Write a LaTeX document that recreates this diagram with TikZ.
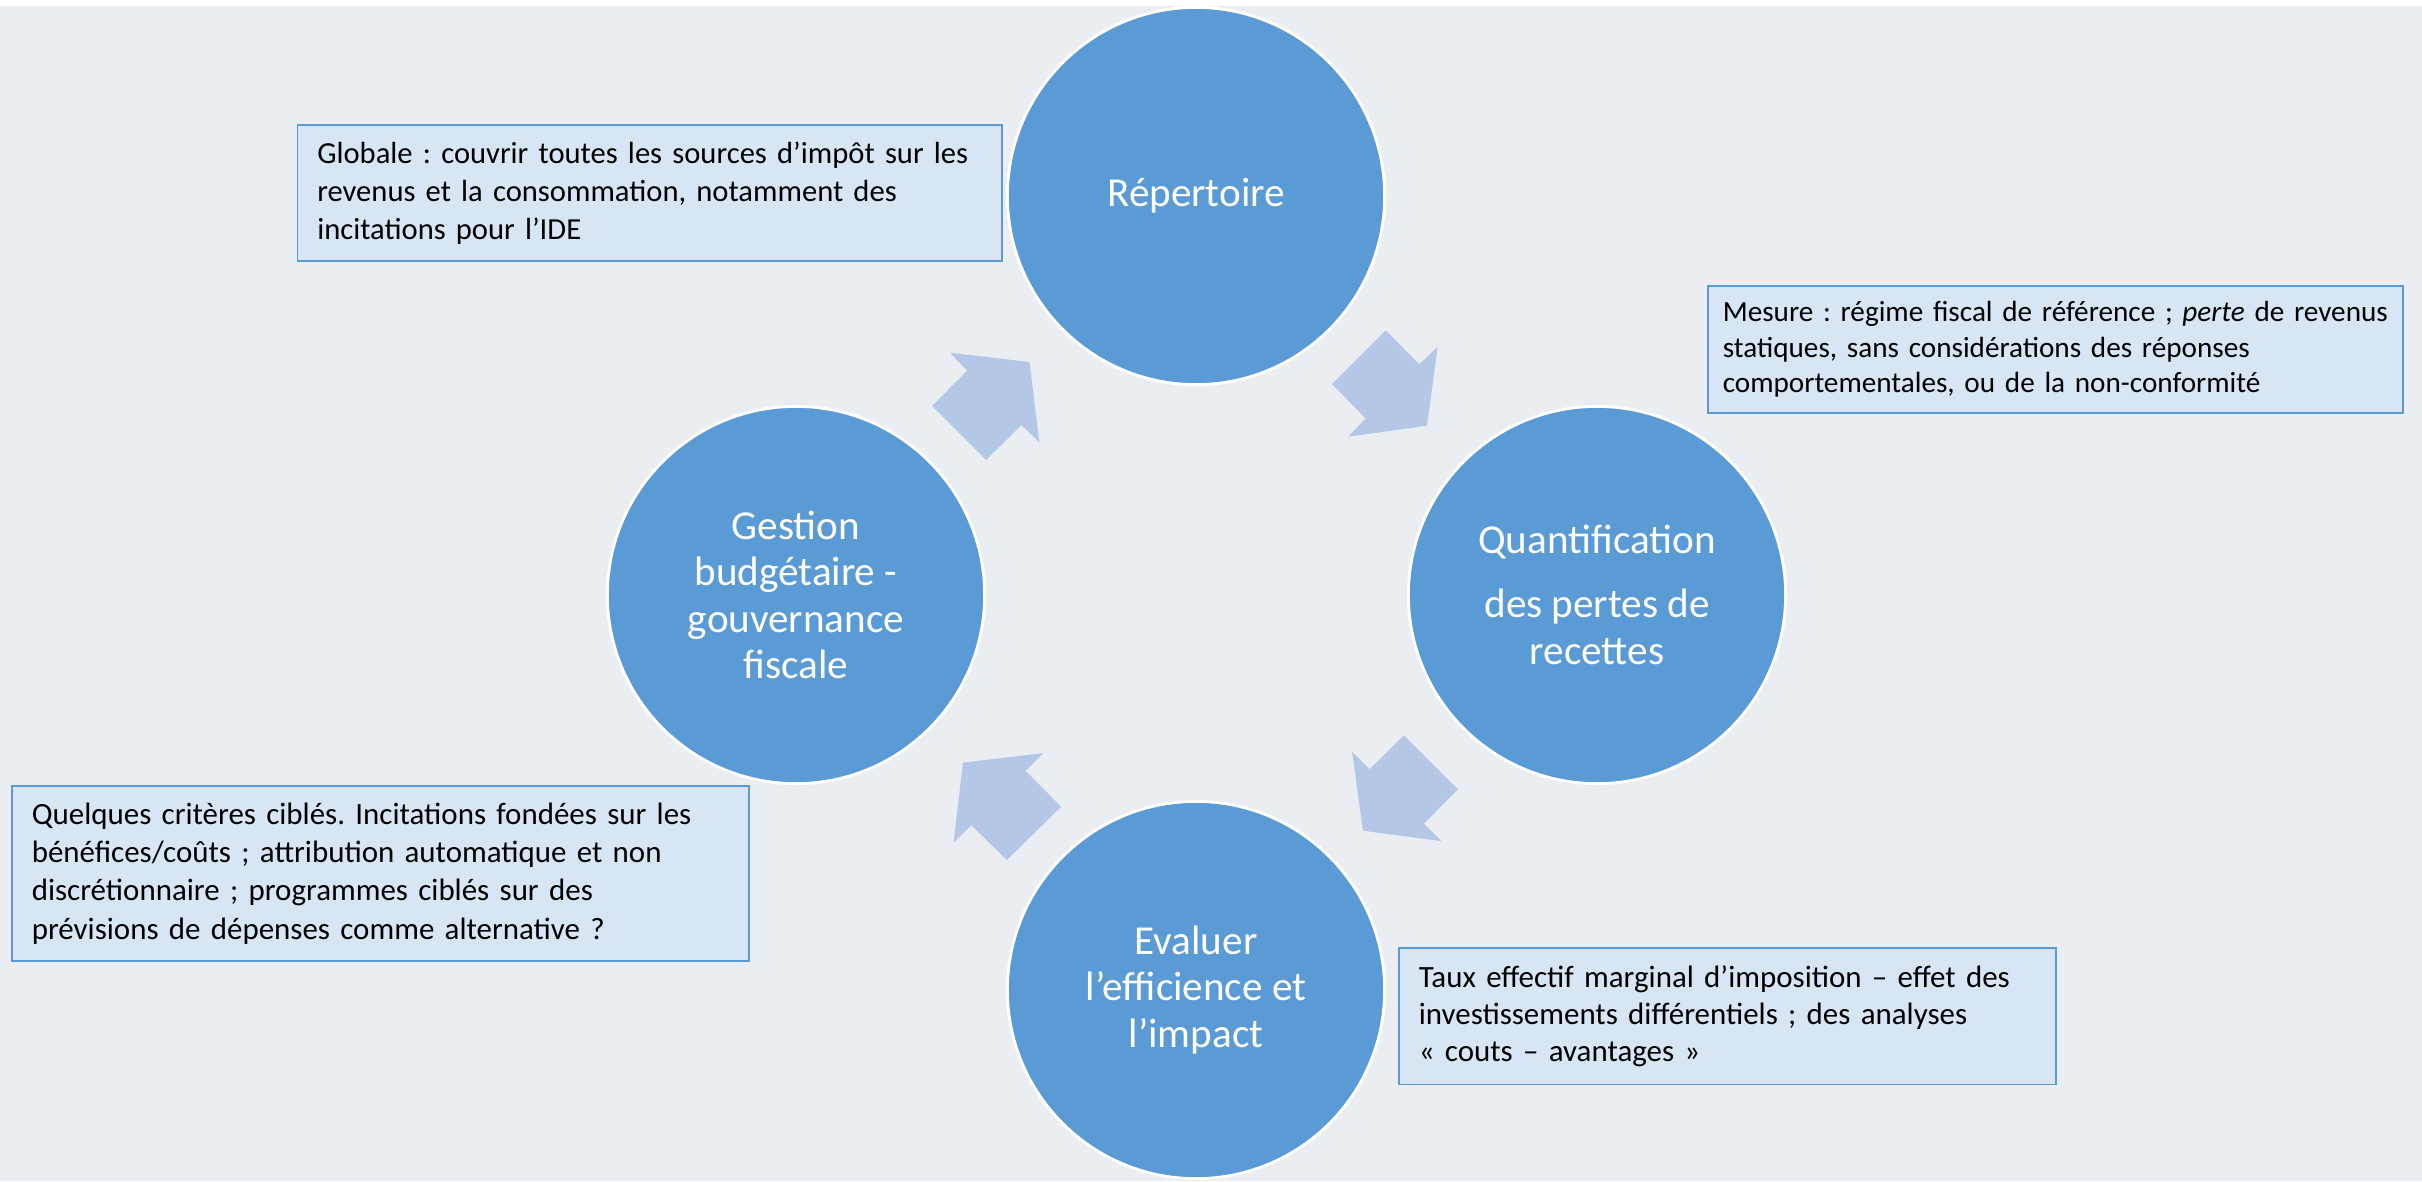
\documentclass[tikz,border=0pt]{standalone}
\usepackage{fontspec}
\setmainfont{Carlito}
\usepackage{tikz}
\usetikzlibrary{positioning}
\definecolor{bgtint}{HTML}{EAEEF3}
\definecolor{stageblue}{HTML}{5B9BD5}
\definecolor{arrowtint}{HTML}{B4C7E7}
\definecolor{notefill}{HTML}{D7E5F5}
\definecolor{noteedge}{HTML}{5B9BD5}
\frenchspacing

\begin{document}
\begin{tikzpicture}[x=0.01cm, y=-0.01cm,
  stage/.style={circle, fill=stageblue, draw=white, line width=0.8pt, minimum size=3.77cm, inner sep=0pt, align=center, text=white, font=\fontsize{11.7}{13.2}\selectfont},
  note/.style={rectangle, draw=noteedge, line width=0.45pt, fill=notefill, anchor=north west, align=left, inner xsep=0.2cm, inner ysep=0pt, font=\fontsize{8.7}{10.8}\selectfont},
  cyclearrow/.style={fill=arrowtint}]
  \useasboundingbox (0,0) rectangle (2422,1181);
  \fill[white] (0,0) rectangle (2422,1181);
  \fill[bgtint] (0,6) rectangle (2422,1181);

  \node (repertoire) at (1196,196) [stage] {Répertoire};
  \node (quantif) at (1597,595) [stage] {Quantification\\[5pt] des pertes de\\ recettes};
  \node (evaluer) at (1196,990) [stage] {Evaluer\\ l’efficience et\\ l’impact};
  \node (gestion) at (796,595) [stage] {Gestion\\ budgétaire -\\ gouvernance\\ fiscale};

  \fill[cyclearrow] (1385.7,330.3) -- (1419.3,364.3) -- (1437.7,346.7) -- (1427,425.7) -- (1348.3,436.7) -- (1365.7,418.3) -- (1332,384) -- cycle;
  \fill[cyclearrow] (1403.9,735.3) -- (1457.9,789.3) -- (1423.9,823.7) -- (1441.4,841) -- (1362.9,830.7) -- (1352.1,751.7) -- (1369.6,769.3) -- cycle;
  \fill[cyclearrow] (1006.8,860) -- (971.4,825.3) -- (953.6,842.7) -- (962.9,762.7) -- (1043.2,753) -- (1025.7,771) -- (1061.1,806.7) -- cycle;
  \fill[cyclearrow] (932.1,406) -- (967.1,370.7) -- (950,352.7) -- (1029.6,362) -- (1039.3,442.3) -- (1021.4,425) -- (986.1,460) -- cycle;

  \node (globale) at (296.5,124) [note, text width=6.645cm, minimum height=1.36cm] {Globale : couvrir toutes les sources d’impôt sur les\\ revenus et la consommation, notamment des\\ incitations pour l’IDE};
  \node (mesure) at (1707,285) [note, inner xsep=0.15cm, text width=6.65cm, minimum height=1.27cm, font=\fontsize{8.3}{10}\selectfont] {Mesure : régime fiscal de référence ; \textit{perte} de revenus\\ statiques, sans considérations des réponses\\ comportementales, ou de la non-conformité};
  \node (criteres) at (11,785) [note, text width=6.965cm, minimum height=1.75cm, font=\fontsize{8.8}{10.9}\selectfont] {Quelques critères ciblés. Incitations fondées sur les\\ bénéfices/coûts ; attribution automatique et non\\ discrétionnaire ; programmes ciblés sur des\\ prévisions de dépenses comme alternative ?};
  \node (taux) at (1398,947) [note, text width=6.17cm, minimum height=1.365cm, font=\fontsize{8.8}{10.6}\selectfont] {Taux effectif marginal d’imposition – effet des\\ investissements différentiels ; des analyses\\ « couts – avantages »};
\end{tikzpicture}
\end{document}
